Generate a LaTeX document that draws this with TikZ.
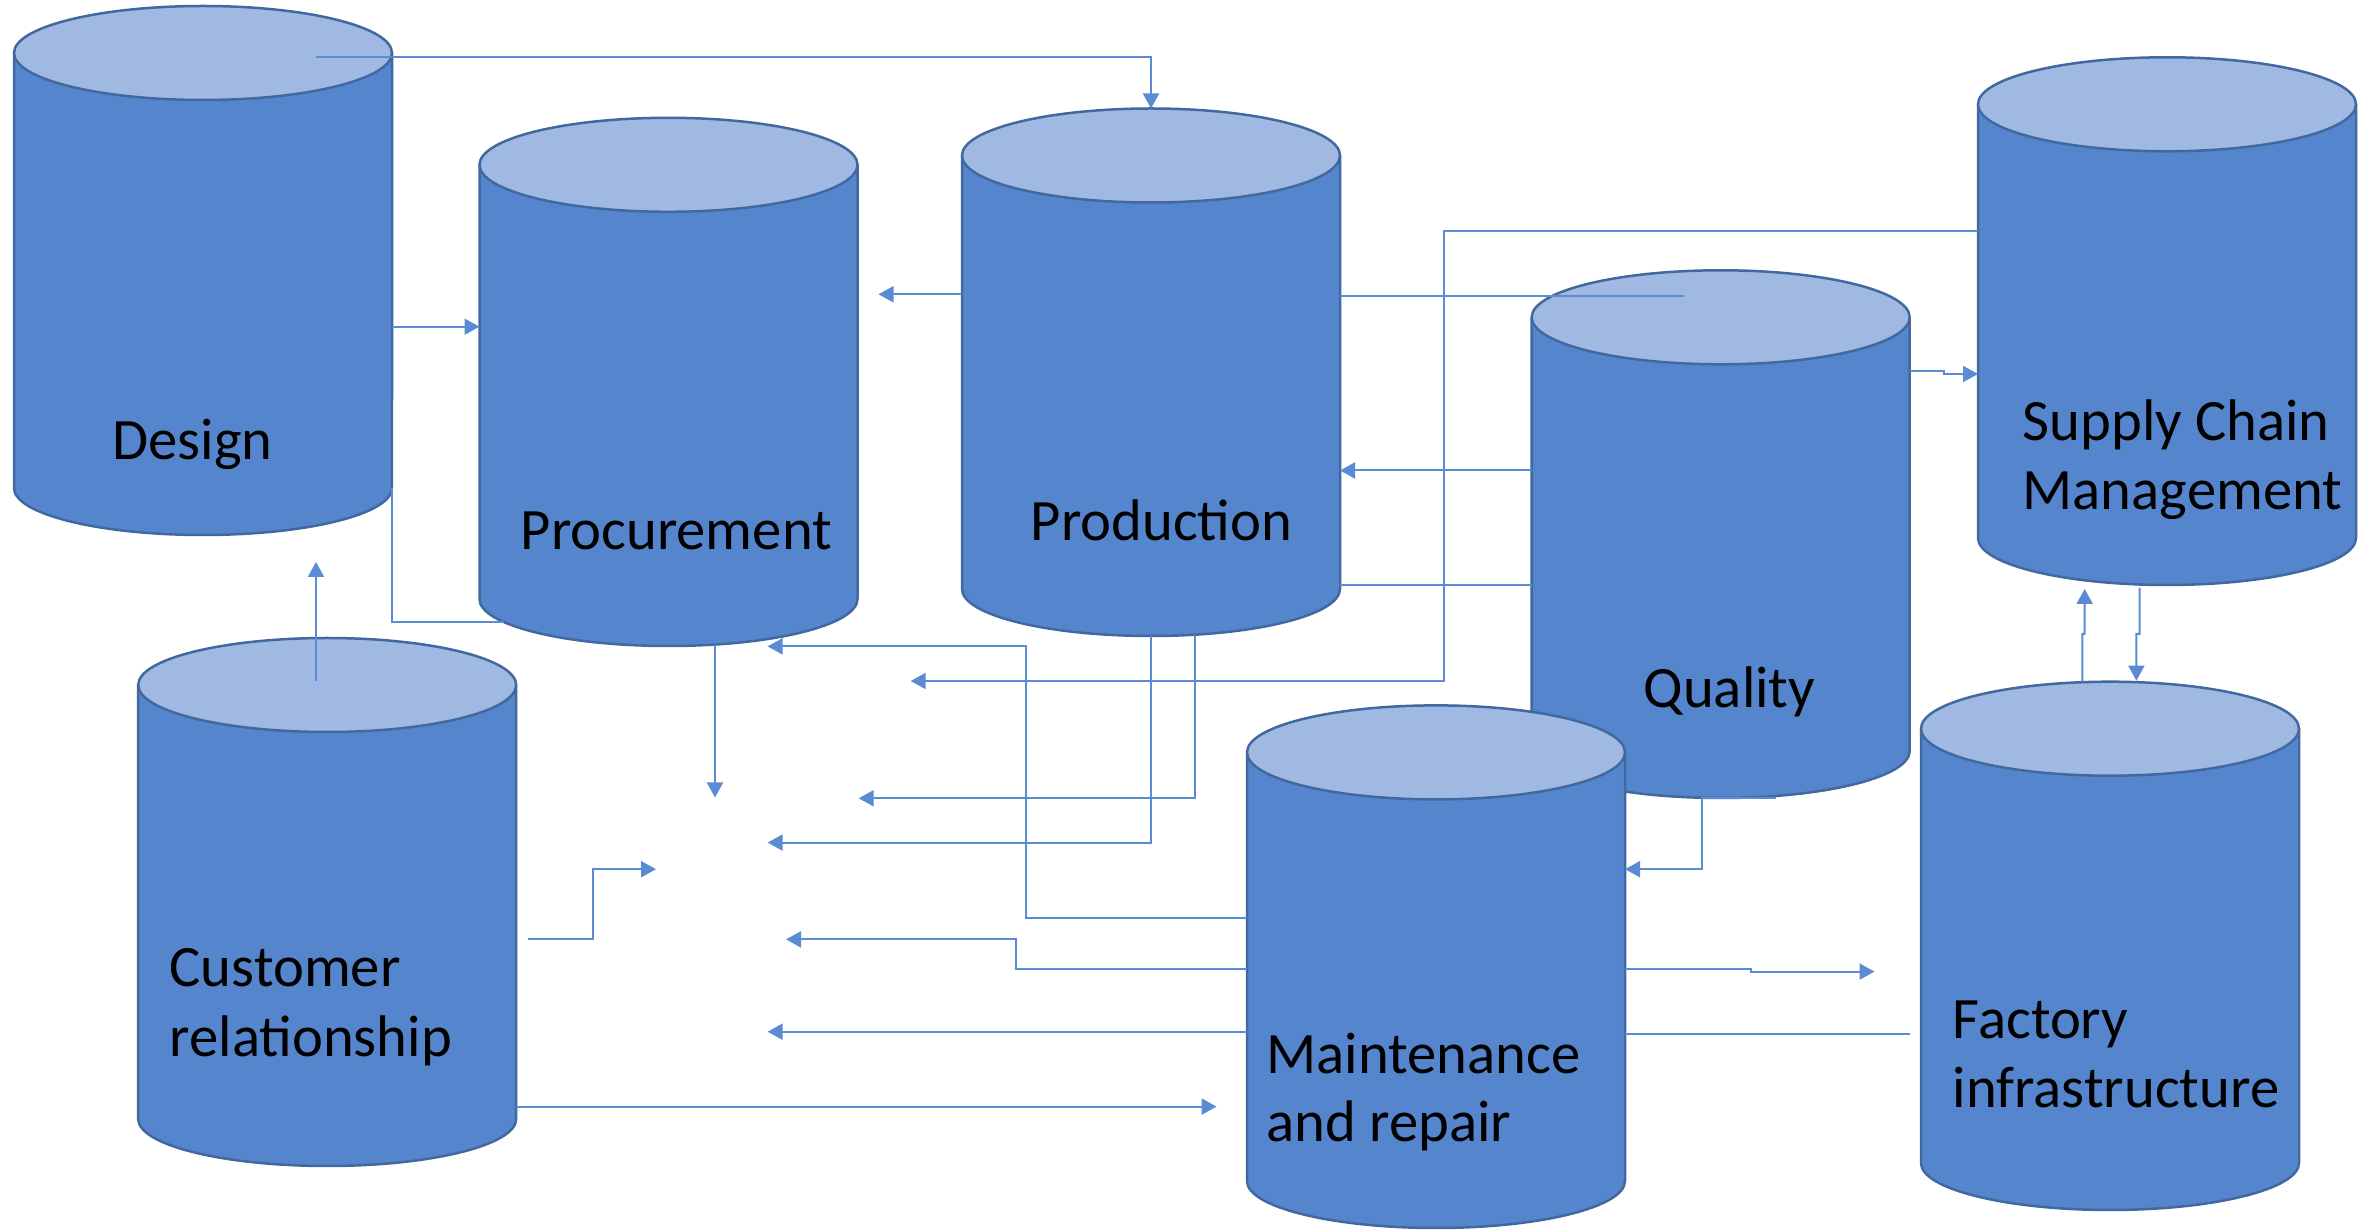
\documentclass[tikz,border=0pt]{standalone}
\usepackage{fontspec}
\setmainfont{Carlito}
\usetikzlibrary{arrows.meta,calc}
\definecolor{canbodyc}{HTML}{5586CD}
\definecolor{cantopc}{HTML}{A0B9E2}
\definecolor{canedgec}{HTML}{41689F}
\definecolor{linec}{HTML}{5B8BD3}
\newcommand\crx{56.7pt}
\newcommand\cry{14.1pt}
\newcommand\drawcan[4]{%
  \fill[canbody] (#2-189,#3) -- (#2-189,#4)
    arc[start angle=180,end angle=360,x radius=\crx,y radius=\cry] -- (#2+189,#3) -- cycle;
  \draw[canedge] (#2-189,#3) -- (#2-189,#4)
    arc[start angle=180,end angle=360,x radius=\crx,y radius=\cry] -- (#2+189,#3);
  \draw[cantop] (#2,#3) ellipse[x radius=\crx,y radius=\cry];
  \node[inner sep=0pt,outer sep=0pt,minimum width=113.4pt,minimum height={(#4-#3)*0.3pt}] (#1) at (#2,{(#3+#4)/2}) {};
}
\begin{document}
\begin{tikzpicture}[x=0.3pt,y=-0.3pt,
  canbody/.style={fill=canbodyc},
  canedge/.style={draw=canedgec,line width=0.75pt},
  cantop/.style={fill=cantopc,draw=canedgec,line width=0.75pt},
  conn/.style={draw=linec,line width=0.6pt},
  arr/.style={conn,-{Triangle[length=4.5pt,width=4.8pt]}},
  lbl/.style={anchor=base west,inner sep=0pt,font=\fontsize{17.6pt}{21pt}\selectfont}]
\useasboundingbox (0,0) rectangle (2374,1232);
% cylinders
\drawcan{design}{203}{53}{488}
\drawcan{procurement}{668.5}{164.8}{599}
\drawcan{production}{1151}{155.5}{589}
\drawcan{supply}{2167}{104.3}{538}
\drawcan{customer}{327.2}{685}{1119}
\drawcan{quality}{1720.7}{317.3}{751}
\drawcan{maintenance}{1436}{752.4}{1181}
\drawcan{factory}{2110}{728.7}{1163}
% labels
\node[lbl] (tdesign) at (112,460) {Design};
\node[lbl] (tproc) at (520,550) {Procurement};
\node[lbl] (tprod) at (1030,541) {Production};
\node[lbl] (tscm1) at (2022,440.6) {Supply Chain};
\node[lbl] (tscm2) at (2022,509.8) {Management};
\node[lbl] (tqual) at (1643,707.6) {Quality};
\node[lbl] (tcr1) at (169,987) {Customer};
\node[lbl] (tcr2) at (169,1056.6) {relationship};
\node[lbl] (tmr1) at (1266,1073.6) {Maintenance};
\node[lbl] (tmr2) at (1266,1142) {and repair};
\node[lbl] (tfi1) at (1952,1039) {Factory};
\node[lbl] (tfi2) at (1952,1107.8) {infrastructure};
% free ends
\coordinate (e1) at (316,57);
\coordinate (e3) at (503.5,622);
\coordinate (e4) at (878.5,294.3);
\coordinate (e5a) at (316,681);
\coordinate (e5b) at (316,562);
\coordinate (e6a) at (715,645);
\coordinate (e6b) at (715,797.5);
\coordinate (e7) at (767.6,646.4);
\coordinate (e8) at (910.7,681);
\coordinate (e9) at (1684,296.4);
\coordinate (e14a) at (767.6,842.6);
\coordinate (e14b) at (858.7,798.3);
\coordinate (e15a) at (528,939.4);
\coordinate (e15b) at (656,869.2);
\coordinate (e16) at (786,939.4);
\coordinate (e17) at (767.6,1031.7);
\coordinate (e18) at (1216.6,1106.6);
\coordinate (e19) at (1776,798.3);
\coordinate (e20) at (1874.5,971.6);
\coordinate (e21) at (1909.5,1034.5);
% connectors
\draw[arr] (e1) -| ($(production.north)+(0,-47)$);
\draw[arr] (design.east |- 0,326.7) -- (procurement.west |- 0,326.7);
\draw[conn] (design.east |- 0,488) -- (design.east |- 0,622) -- (e3);
\draw[arr] (production.west |- 0,294.3) -- (e4);
\draw[arr] (e5a) -- (e5b);
\draw[arr] (e6a) -- (e6b);
\draw[arr] (maintenance.west |- 0,917.6) -| (1025.5,646.4) -- (e7);
\draw[arr] (supply.west |- 0,231) -| (1443.5,681) -- (e8);
\draw[conn] (production.east |- 0,296.4) -- (e9);
\draw[arr] (quality.west |- 0,470.5) -- (production.east |- 0,470.5);
\draw[conn] (production.east |- 0,585.4) -- (quality.west |- 0,585.4);
\draw[arr] (quality.east |- 0,371) -- (1944,371) -- (1944,374) -- (supply.west |- 0,374);
\draw[arr] ($(factory.north)+(-27.6,-47)$) -- (2082.4,634) -- (2084.7,634) -- (2084.7,589);
\draw[arr] ($(supply.south)+(-27.5,50)$) -- (2139.5,634) -- (2136.4,634) -- ($(factory.north)+(26.4,-48)$);
\draw[arr] ($(production.south)+(0,47)$) -- (1151,842.6) -- (e14a);
\draw[arr] (1195.4,634.7) -- (1195.4,798.3) -- (e14b);
\draw[arr] (e15a) -- (593,939.4) -- (593,869.2) -- (e15b);
\draw[arr] (maintenance.west |- 0,969.2) -- (1015.5,969.2) -- (1015.5,939.4) -- (e16);
\draw[arr] (maintenance.west |- 0,1031.7) -- (e17);
\draw[arr] (customer.east |- 0,1106.6) -- (e18);
\draw[arr] (e19) -- (1701.6,798.3) -- (1701.6,869.2) -- (maintenance.east |- 0,869.2);
\draw[arr] (maintenance.east |- 0,969.2) -- (1751,969.2) -- (1751,971.6) -- (e20);
\draw[conn] (maintenance.east |- 0,1034.5) -- (e21);
\end{tikzpicture}
\end{document}
